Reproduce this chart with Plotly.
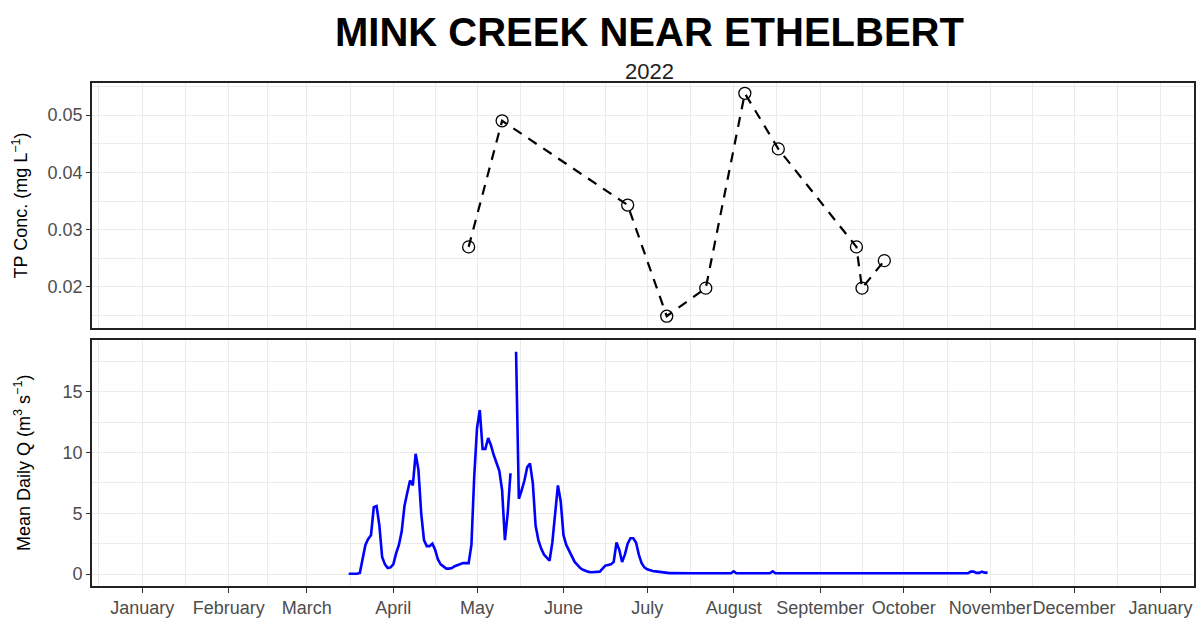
import pandas as pd
import plotly.graph_objects as go

# ---------------- data ----------------
tp_dates = ["2022-04-28", "2022-05-10", "2022-06-24", "2022-07-08", "2022-07-22",
            "2022-08-05", "2022-08-17", "2022-09-14", "2022-09-16", "2022-09-24"]
tp_conc = [0.027, 0.049, 0.0343, 0.0149, 0.0198, 0.0538, 0.0441, 0.027, 0.0198, 0.0246]

flow_start = "2022-03-16"
flow_q = [
    # Mar 16 - Mar 31
    0.03, 0.03, 0.03, 0.03, 0.1, 1.3, 2.4, 2.9, 3.2, 5.5, 5.6, 4.0, 1.4, 0.8, 0.5, 0.55,
    # Apr 1 - Apr 30
    0.8, 1.7, 2.4, 3.5, 5.6, 6.7, 7.7, 7.3, 9.9, 8.6, 5.0, 2.8, 2.3, 2.3, 2.5,
    2.0, 1.2, 0.8, 0.6, 0.45, 0.45, 0.5, 0.65, 0.75, 0.85, 0.9, 0.9, 0.9, 2.4, 8.0,
    # May 1 - May 31
    12.0, 13.5, 10.3, 10.3, 11.2, 10.6, 9.8, 9.2, 8.5, 6.9, 2.8, 5.0, 8.3, None, 18.3,
    6.2, 6.9, 7.7, 8.8, 9.1, 7.5, 4.0, 2.8, 2.1, 1.6, 1.3, 1.1, 2.6, 5.0, 7.3, 6.0,
    # Jun 1 - Jun 30
    3.2, 2.4, 1.9, 1.4, 1.0, 0.75, 0.5, 0.35, 0.25, 0.18, 0.15, 0.15, 0.15, 0.2, 0.45,
    0.7, 0.75, 0.8, 1.0, 2.6, 2.0, 1.0, 1.6, 2.5, 2.95, 2.95, 2.6, 1.6, 0.9, 0.55,
    # Jul 1 - Jul 31
    0.4, 0.3, 0.25, 0.22, 0.18, 0.15, 0.12, 0.1, 0.08, 0.08, 0.07, 0.07, 0.07, 0.07, 0.07,
    0.07, 0.07, 0.07, 0.07, 0.07, 0.07, 0.07, 0.07, 0.07, 0.07, 0.07, 0.07, 0.07, 0.07, 0.07, 0.07,
    # Aug 1 - Aug 31
    0.22, 0.07, 0.07, 0.07, 0.07, 0.07, 0.07, 0.07, 0.07, 0.07, 0.07, 0.07, 0.07, 0.07, 0.22,
    0.07, 0.07, 0.07, 0.07, 0.07, 0.07, 0.07, 0.07, 0.07, 0.07, 0.07, 0.07, 0.07, 0.07, 0.07, 0.07,
    # Sep 1 - Sep 30
    0.07, 0.07, 0.07, 0.07, 0.07, 0.07, 0.07, 0.07, 0.07, 0.07, 0.07, 0.07, 0.07, 0.07, 0.07,
    0.07, 0.07, 0.07, 0.07, 0.07, 0.07, 0.07, 0.07, 0.07, 0.07, 0.07, 0.07, 0.07, 0.07, 0.07,
    # Oct 1 - Oct 31
    0.07, 0.07, 0.07, 0.07, 0.07, 0.07, 0.07, 0.07, 0.07, 0.07, 0.07, 0.07, 0.07, 0.07, 0.07,
    0.07, 0.1, 0.07, 0.07, 0.07, 0.07, 0.07, 0.07, 0.07, 0.2, 0.2, 0.1, 0.1, 0.2, 0.12, 0.12,
]

month_names = ["January", "February", "March", "April", "May", "June", "July",
               "August", "September", "October", "November", "December", "January"]

x_range = ["2021-12-14", "2023-01-13"]
tp_range = [0.01285, 0.0556]
q_range = [-0.98, 19.26]

# ---------------- derived ----------------
flow_dates = pd.date_range(flow_start, periods=len(flow_q), freq="D")
month_starts = pd.date_range("2022-01-01", "2023-01-01", freq="MS")
all_months = pd.date_range("2021-12-01", "2023-02-01", freq="MS")
minor_vals = [all_months[i] + (all_months[i + 1] - all_months[i]) / 2 for i in range(len(all_months) - 1)]

FAMILY = "Liberation Sans, Arial, sans-serif"
GRID = "#ebebeb"
BORDER = "#222222"
TICKFONT = dict(family=FAMILY, size=18, color="#4d4d4d")

fig = go.Figure()
fig.add_trace(go.Scatter(
    x=tp_dates, y=tp_conc, mode="lines+markers",
    line=dict(color="black", width=2.2, dash="10px,8px"),
    marker=dict(symbol="circle-open", size=12, color="black", line=dict(width=1.3, color="black")),
    xaxis="x", yaxis="y", showlegend=False))
fig.add_trace(go.Scatter(
    x=flow_dates, y=flow_q, mode="lines", connectgaps=False,
    line=dict(color="#0000ff", width=2.6),
    xaxis="x2", yaxis="y2", showlegend=False))

xcommon = dict(
    type="date", range=x_range, tickmode="array", tickvals=month_starts, ticktext=month_names,
    tickangle=0, automargin=False,
    showgrid=True, gridcolor=GRID, gridwidth=1.2, zeroline=False,
    showline=True, mirror=True, linecolor=BORDER, linewidth=1.6,
    minor=dict(tickmode="array", tickvals=minor_vals, showgrid=True, gridcolor=GRID, gridwidth=0.7, ticks=""),
    tickfont=TICKFONT,
)
ycommon = dict(
    showgrid=True, gridcolor=GRID, gridwidth=1.2, zeroline=False,
    showline=True, mirror=True, linecolor=BORDER, linewidth=1.6,
    ticks="outside", ticklen=4, tickcolor="#333333", tickwidth=1.2,
    tickfont=TICKFONT, automargin=False,
)

fig.update_layout(
    width=1196, height=619,
    margin=dict(l=92, r=2, t=83, b=33),
    paper_bgcolor="white", plot_bgcolor="white",
    font=dict(family=FAMILY, color="black"),
    xaxis=dict(**xcommon, anchor="y", matches="x2", showticklabels=False, ticks=""),
    xaxis2=dict(**xcommon, anchor="y2", ticks="outside", ticklen=5, tickcolor="#333333", tickwidth=1.2),
    yaxis=dict(**ycommon, domain=[0.513, 1.0], range=tp_range, tickmode="array",
               tickvals=[0.02, 0.03, 0.04, 0.05], tickformat=".2f", anchor="x"),
    yaxis2=dict(**ycommon, domain=[0.0, 0.489], range=q_range, tickmode="array",
                tickvals=[0, 5, 10, 15], anchor="x2"),
)
fig.update_yaxes(minor=dict(showgrid=True, gridcolor=GRID, gridwidth=0.7, ticks=""))
fig.layout.yaxis.minor.dtick = 0.005
fig.layout.yaxis.minor.tick0 = 0.0
fig.layout.yaxis2.minor.dtick = 2.5
fig.layout.yaxis2.minor.tick0 = 0.0

fig.add_annotation(text="<b>MINK CREEK NEAR ETHELBERT</b>", xref="paper", yref="paper",
                   x=0.506, y=1.101, xanchor="center", yanchor="middle", showarrow=False,
                   font=dict(size=40, color="black", family=FAMILY))
fig.add_annotation(text="2022", xref="paper", yref="paper",
                   x=0.506, y=1.022, xanchor="center", yanchor="middle", showarrow=False,
                   font=dict(size=22, color="#222222", family=FAMILY))
fig.add_annotation(text="TP Conc. (mg L<sup>−1</sup>)", xref="paper", yref="y domain",
                   x=-0.0653, y=0.5, xanchor="center", yanchor="middle", textangle=-90,
                   showarrow=False, font=dict(size=18, color="black", family=FAMILY))
fig.add_annotation(text="Mean Daily Q (m<sup>3</sup> s<sup>−1</sup>)", xref="paper", yref="y2 domain",
                   x=-0.0635, y=0.5, xanchor="center", yanchor="middle", textangle=-90,
                   showarrow=False, font=dict(size=18, color="black", family=FAMILY))

fig.write_html("out.html", config={"displayModeBar": False},
               post_script="document.body.style.margin='0px';document.body.style.overflow='hidden';")
